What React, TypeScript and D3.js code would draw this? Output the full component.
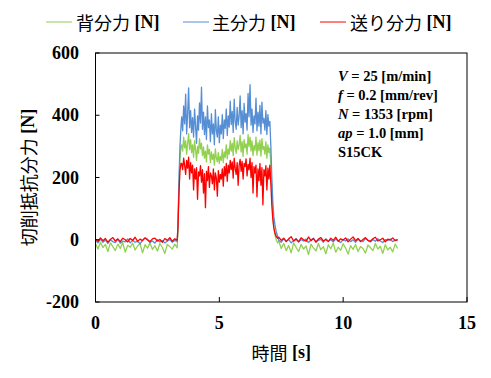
import React from "react";
import * as d3 from "d3";

// ---- data ----
const times = [
  0, 0.1, 0.2, 0.3, 0.4, 0.5, 0.6, 0.7, 0.8, 0.9, 1, 1.1, 1.2, 1.3, 1.4, 1.5, 1.6, 1.7, 1.8, 1.9,
  2, 2.1, 2.2, 2.3, 2.4, 2.5, 2.6, 2.7, 2.8, 2.9, 3, 3.1, 3.2, 3.3,
  3.33, 3.37, 3.41, 3.45,
  3.48, 3.52, 3.56, 3.6, 3.64, 3.68, 3.72, 3.76, 3.8, 3.84,
  3.88, 3.92, 3.96, 4.0, 4.04, 4.08, 4.12, 4.16, 4.2, 4.24,
  4.28, 4.32, 4.36, 4.4, 4.44, 4.48, 4.52, 4.56, 4.6, 4.64,
  4.68, 4.72, 4.76, 4.8, 4.84, 4.88, 4.92, 4.96, 5.0, 5.04,
  5.08, 5.12, 5.16, 5.2, 5.24, 5.28, 5.32, 5.36, 5.4, 5.44,
  5.48, 5.52, 5.56, 5.6, 5.64, 5.68, 5.72, 5.76, 5.8, 5.84,
  5.88, 5.92, 5.96, 6.0, 6.04, 6.08, 6.12, 6.16, 6.2, 6.24,
  6.28, 6.32, 6.36, 6.4, 6.44, 6.48, 6.52, 6.56, 6.6, 6.64,
  6.68, 6.72, 6.76, 6.8, 6.84, 6.88, 6.92, 6.96, 7.0, 7.04,
  7.08, 7.12, 7.16, 7.2, 7.25, 7.3, 7.35,
  7.4, 7.5, 7.6, 7.7, 7.8, 7.9, 8.0, 8.1, 8.2, 8.3, 8.4, 8.5, 8.6, 8.7, 8.8, 8.9,
  9.0, 9.1, 9.2, 9.3, 9.4, 9.5, 9.6, 9.7, 9.8, 9.9, 10.0, 10.1, 10.2, 10.3, 10.4, 10.5, 10.6, 10.7, 10.8, 10.9,
  11.0, 11.1, 11.2, 11.3, 11.4, 11.5, 11.6, 11.7, 11.8, 11.9, 12.0, 12.1, 12.2,
];

// 背分力 (green)
const backForce = [
  -12, -30, -8, -25, -15, -38, -10, -22, -35, -14, -28, -9, -40, -18, -24, -11, -33, -20, -13, -42,
  -16, -27, -10, -31, -19, -36, -12, -25, -44, -15, -22, -30, -14, -26,
  45, 170, 260, 300,
  305, 285, 330, 295, 318, 275, 310, 340, 290, 322,
  280, 305, 265, 318, 290, 255, 300, 278, 325, 292,
  310, 270, 298, 262, 285, 250, 305, 275, 290, 248,
  282, 258, 275, 240, 292, 262, 250, 280, 245, 268,
  255, 290, 248, 282, 265, 305, 260, 292, 275, 318,
  285, 310, 270, 328, 295, 278, 318, 290, 305, 335,
  282, 315, 268, 322, 295, 308, 275, 338, 300, 330,
  285, 318, 270, 302, 288, 330, 272, 312, 286, 320,
  268, 325, 290, 300, 275, 315, 262, 305, 280, 295,
  240, 150, 80, 40, 15, 0, -10,
  -5, -28, -12, -35, -18, -42, -10, -25, -38, -15, -30, -20, -48, -14, -26, -36, -12, -32, -22, -45,
  -16, -29, -11, -40, -24, -34, -13, -27, -46, -19, -31, -15, -38, -22, -28, -43, -17, -25, -35, -12,
  -30, -21, -44, -16, -33, -24, -39, -14, -28,
];

// 主分力 (blue)
const mainForce = [
  -3, -10, 2, -8, -1, -12, 0, -6, -9, 1, -11, -4, -7, 3, -10, -2, -8, -5, -13, -1,
  6, 2, -9, -4, -11, 0, -7, -3, -10, -5, 1, -8, -2, -6,
  50, 190, 300, 360,
  395, 350, 430, 372, 468, 340, 405, 488, 360, 415,
  345, 392, 330, 420, 365, 310, 398, 352, 440, 375,
  490, 355, 410, 338, 395, 322, 430, 360, 385, 315,
  405, 340, 372, 305, 418, 350, 330, 395, 312, 368,
  340, 402, 325, 385, 358, 420, 335, 398, 362, 445,
  370, 412, 345, 452, 380, 355, 425, 368, 398, 462,
  360, 415, 340, 438, 378, 405, 352, 470, 395, 498,
  368, 420, 345, 398, 372, 455, 350, 410, 365, 432,
  340, 442, 375, 390, 352, 415, 338, 402, 365, 380,
  300, 200, 120, 75, 45, 25, 12,
  -2, -8, 3, -5, 1, -10, -3, 4, -7, 0, -4, 2, -9, -1, 5, -6, -2, 1, -8, 3,
  -5, 0, -7, 2, -3, -9, 1, -4, 3, -6, 0, -8, 2, -3, -6, 4, -2, -7, 1, -5,
  3, -4, -9, 0, -2, 2, -6, -1, -3,
];

// 送り分力 (red)
const feedForce = [
  2, -5, 6, -3, 4, -8, 1, 7, -4, 3, -6, 5, 0, -7, 4, -2, 8, -5, 2, -3,
  6, -1, -6, 3, 5, -4, 1, -8, 4, -2, 7, -5, 3, -1,
  40, 150, 220, 245,
  245, 225, 262, 238, 210, 255, 230, 265, 195, 248,
  215, 240, 160, 228, 195, 232, 130, 218, 205, 238,
  185, 225, 150, 212, 103, 220, 190, 235, 168, 215,
  205, 180, 228, 160, 215, 198, 140, 222, 185, 210,
  195, 228, 172, 235, 205, 245, 188, 240, 215, 255,
  225, 250, 198, 262, 230, 210, 248, 175, 240, 258,
  220, 252, 195, 245, 235, 260, 205, 242, 225, 262,
  200, 248, 150, 235, 215, 240, 138, 228, 190, 245,
  175, 232, 112, 225, 205, 238, 160, 230, 195, 240,
  180, 110, 65, 38, 20, 10, 5,
  8, -2, 5, -6, 3, 10, -4, 2, -7, 6, 0, -5, 9, -3, 4, -8, 2, 7, -4, 1,
  -6, 5, -2, 8, -5, 3, -1, 6, -7, 2, 9, -3, 4, -6, 1, 7, -2, -5, 3, 8,
  -4, 0, 5, -7, 2, -1, 6, -3, 1,
];

const xTicks = [0, 5, 10, 15];
const yTicks = [-200, 0, 200, 400, 600];

const seriesNames = ["背分力", "主分力", "送り分力"];
const seriesColors = ["#92D050", "#558ED5", "#FF0000"];
const seriesData = [backForce, mainForce, feedForce];

const SERIF = "'Liberation Serif', 'Times New Roman', serif";
const CJK = "'Noto Sans CJK JP', 'Noto Sans', sans-serif";

export default function App() {
  const W = 491;
  const H = 378;
  const left = 95.5;
  const right = 467;
  const top = 53;
  const bottom = 302;

  const x = d3.scaleLinear().domain([0, 15]).range([left, right]);
  const y = d3.scaleLinear().domain([-200, 600]).range([bottom, top]);

  const makePath = (vals: number[]) => {
    const n = Math.min(vals.length, times.length);
    const pts: [number, number][] = [];
    for (let i = 0; i < n; i++) pts.push([times[i], vals[i]]);
    return d3
      .line<[number, number]>()
      .x((d) => x(d[0]))
      .y((d) => y(d[1]))(pts) as string;
  };

  const legendItems = [
    { lx: 46, tx: 76 },
    { lx: 183, tx: 212 },
    { lx: 320, tx: 350 },
  ];

  const annot = [
    { it: "V", rest: " = 25 [m/min]" },
    { it: "f", rest: " = 0.2 [mm/rev]" },
    { it: "N", rest: " = 1353 [rpm]" },
    { it: "ap", rest: " = 1.0 [mm]" },
    { it: "", rest: "S15CK" },
  ];

  return (
    <svg
      width={W}
      height={H}
      style={{ position: "absolute", left: 0, top: 0, background: "#fff" }}
    >
      <rect x={0} y={0} width={W} height={H} fill="#fff" />
      {/* series */}
      {seriesData.map((vals, i) => (
        <path
          key={i}
          d={makePath(vals)}
          fill="none"
          stroke={seriesColors[i]}
          strokeWidth={1.3}
          strokeLinejoin="round"
        />
      ))}
      {/* frame */}
      <rect
        x={left}
        y={top}
        width={right - left}
        height={bottom - top}
        fill="none"
        stroke="#000"
        strokeWidth={1}
      />
      {/* ticks */}
      {yTicks.map((t) => (
        <g key={"y" + t}>
          <line x1={left} x2={left + 4} y1={y(t)} y2={y(t)} stroke="#000" />
          <text
            x={79}
            y={y(t)}
            textAnchor="end"
            dominantBaseline="central"
            fontFamily={SERIF}
            fontWeight="bold"
            fontSize={18}
          >
            {t}
          </text>
        </g>
      ))}
      {xTicks.map((t) => (
        <g key={"x" + t}>
          <line x1={x(t)} x2={x(t)} y1={bottom} y2={bottom - 5} stroke="#000" />
          <text
            x={x(t)}
            y={323}
            textAnchor="middle"
            dominantBaseline="central"
            fontFamily={SERIF}
            fontWeight="bold"
            fontSize={18}
          >
            {t}
          </text>
        </g>
      ))}
      {/* axis titles */}
      <text
        x={(left + right) / 2}
        y={352}
        textAnchor="middle"
        dominantBaseline="central"
        fontSize={18}
      >
        <tspan fontFamily={CJK}>時間</tspan>
        <tspan fontFamily={SERIF} fontWeight="bold"> [s]</tspan>
      </text>
      <text
        transform={`translate(28,${(top + bottom) / 2}) rotate(-90)`}
        textAnchor="middle"
        dominantBaseline="central"
        fontSize={18}
      >
        <tspan fontFamily={CJK}>切削抵抗分力</tspan>
        <tspan fontFamily={SERIF} fontWeight="bold"> [N]</tspan>
      </text>
      {/* legend */}
      {legendItems.map((l, i) => (
        <g key={"l" + i}>
          <line
            x1={l.lx}
            x2={l.lx + 26}
            y1={22}
            y2={22}
            stroke={seriesColors[i]}
            strokeWidth={1}
          />
          <text x={l.tx} y={22} dominantBaseline="central" fontSize={18}>
            <tspan fontFamily={CJK}>{seriesNames[i]}</tspan>
            <tspan fontFamily={SERIF} fontWeight="bold"> [N]</tspan>
          </text>
        </g>
      ))}
      {/* annotation */}
      {annot.map((a, i) => (
        <text
          key={"a" + i}
          x={338}
          y={76 + i * 19}
          dominantBaseline="central"
          fontFamily={SERIF}
          fontWeight="bold"
          fontSize={14.5}
        >
          {a.it && <tspan fontStyle="italic">{a.it}</tspan>}
          <tspan>{a.rest}</tspan>
        </text>
      ))}
    </svg>
  );
}
